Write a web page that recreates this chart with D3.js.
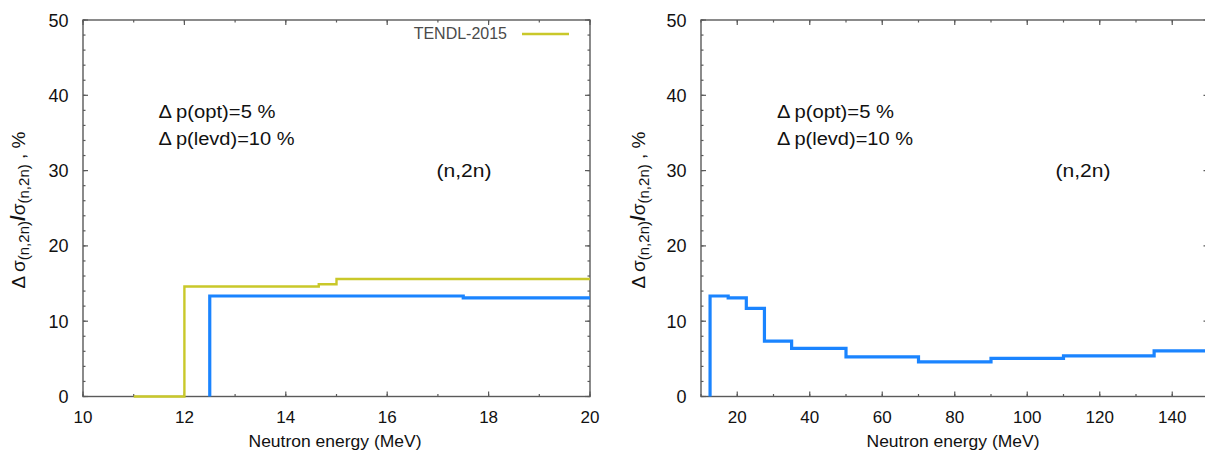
<!DOCTYPE html>
<html><head><meta charset="utf-8">
<script src="https://cdn.jsdelivr.net/npm/d3@7"></script>
<style>
body{margin:0;background:#fff;}
text{font-family:"Liberation Sans",Arial,sans-serif;}
</style></head>
<body><svg id="c" width="1205" height="457"></svg>
<script>
// ---- data ----
const tendlX = [11, 12, 14.65, 15, 20];
const tendlY = [0, 14.6, 14.9, 15.6];
const leftCalcX = [12.5, 17.5, 20];
const leftCalcY = [13.35, 13.1];
const rightCalcX = [12.5, 17.5, 22.5, 27.5, 35, 50, 70, 90, 110, 135, 150];
const rightCalcY = [13.35, 13.1, 11.7, 7.35, 6.4, 5.25, 4.6, 5.05, 5.4, 6.05];
const yTicks = [0, 10, 20, 30, 40, 50];
const leftXTicks = [10, 12, 14, 16, 18, 20];
const rightXTicks = [20, 40, 60, 80, 100, 120, 140];
const annot1 = "\u0394\u2009p(opt)=5 %";
const annot2 = "\u0394\u2009p(levd)=10 %";
const reaction = "(n,2n)";
const legendLabel = "TENDL-2015";
const xTitle = "Neutron energy (MeV)";

const svg = d3.select("#c");
const plotTop = 20, plotBottom = 396.5;
const BLUE = "#1a84ff", YEL = "#c9c82a", AX = "#5a5a5a", TXT = "#111";

function stepPath(xs, ys, startAtZero) {
  const pts = [];
  if (startAtZero) pts.push([xs[0], 0]);
  for (let i = 0; i < ys.length; i++) { pts.push([xs[i], ys[i]]); pts.push([xs[i+1], ys[i]]); }
  return pts;
}

function panel(opt) {
  const g = svg.append("g");
  const x = d3.scaleLinear().domain(opt.xdom).range([opt.x0, opt.x1]);
  const y = d3.scaleLinear().domain([0, 50]).range([plotBottom, plotTop]);
  const clipId = "clip" + opt.x0;
  svg.append("clipPath").attr("id", clipId).append("rect")
    .attr("x", opt.x0).attr("y", plotTop - 2).attr("width", opt.x1 - opt.x0).attr("height", plotBottom - plotTop + 4);
  const tk = (vals, len, axis) => {
    vals.forEach(v => {
      if (axis === "x") {
        const px = x(v);
        g.append("line").attr("x1", px).attr("x2", px).attr("y1", plotBottom).attr("y2", plotBottom - len).attr("stroke", AX).attr("stroke-width", 1.2);
        g.append("line").attr("x1", px).attr("x2", px).attr("y1", plotTop).attr("y2", plotTop + len).attr("stroke", AX).attr("stroke-width", 1.2);
      } else {
        const py = y(v);
        g.append("line").attr("y1", py).attr("y2", py).attr("x1", opt.x0).attr("x2", opt.x0 + len).attr("stroke", AX).attr("stroke-width", 1.2);
        g.append("line").attr("y1", py).attr("y2", py).attr("x1", opt.x1).attr("x2", opt.x1 - len).attr("stroke", AX).attr("stroke-width", 1.2);
      }
    });
  };
  tk(opt.xMinor, 2.5, "x"); tk(opt.xMajor, 5, "x");
  tk(d3.range(0, 51, 2), 2.5, "y"); tk(yTicks, 5, "y");
  g.append("rect").attr("x", opt.x0).attr("y", plotTop).attr("width", opt.x1 - opt.x0).attr("height", plotBottom - plotTop)
    .attr("fill", "none").attr("stroke", AX).attr("stroke-width", 1.4);
  g.selectAll(".yl").data(yTicks).join("text").attr("x", opt.x0 - 14.5).attr("y", d => y(d) + 6.5)
    .attr("text-anchor", "end").attr("font-size", 18).attr("fill", TXT).text(d => d);
  g.selectAll(".xl").data(opt.xMajor).join("text").attr("x", d => x(d)).attr("y", 423)
    .attr("text-anchor", "middle").attr("font-size", 17).attr("fill", TXT).text(d => d);
  g.append("text").attr("x", opt.xtx).attr("y", 446.5)
    .attr("text-anchor", "middle").attr("font-size", 16.5).attr("fill", TXT)
    .attr("textLength", 173).attr("lengthAdjust", "spacingAndGlyphs").text(xTitle);
  const yt = g.append("text").attr("transform", `translate(${opt.ytx},210) rotate(-90)`)
    .attr("text-anchor", "middle").attr("font-size", 19).attr("fill", TXT);
  yt.append("tspan").text("\u0394\u2009\u03c3");
  yt.append("tspan").attr("font-size", 15).attr("dy", 4).text("(n,2n)");
  yt.append("tspan").attr("dy", -4).attr("font-size", 21).attr("font-weight", "bold").text("/");
  yt.append("tspan").text("\u03c3");
  yt.append("tspan").attr("font-size", 15).attr("dy", 4).text("(n,2n)");
  yt.append("tspan").attr("dy", -4).text(" ,  %");
  g.append("text").attr("x", opt.ax).attr("y", 117.5).attr("font-size", 18).attr("fill", TXT)
    .attr("textLength", 117).attr("lengthAdjust", "spacingAndGlyphs").text(annot1);
  g.append("text").attr("x", opt.ax).attr("y", 144.5).attr("font-size", 18).attr("fill", TXT)
    .attr("textLength", 136).attr("lengthAdjust", "spacingAndGlyphs").text(annot2);
  g.append("text").attr("x", opt.rx).attr("y", 176.5).attr("text-anchor", "middle").attr("font-size", 18).attr("fill", TXT)
    .attr("textLength", 55).attr("lengthAdjust", "spacingAndGlyphs").text(reaction);
  const line = d3.line().x(d => x(d[0])).y(d => y(d[1]));
  return {g, x, y, line, clipId};
}

const L = panel({xdom: [10, 20], x0: 83, x1: 590, xMajor: leftXTicks, xMinor: d3.range(10, 21, 1),
  ytx: 25, ax: 158.5, rx: 464, xtx: 335});
L.g.append("path").attr("d", L.line(stepPath(tendlX, tendlY, false))).attr("fill", "none")
  .attr("stroke", YEL).attr("stroke-width", 2.4).attr("clip-path", `url(#${L.clipId})`);
L.g.append("path").attr("d", L.line(stepPath(leftCalcX, leftCalcY, true))).attr("fill", "none")
  .attr("stroke", BLUE).attr("stroke-width", 3.2).attr("clip-path", `url(#${L.clipId})`);
L.g.append("text").attr("x", 507).attr("y", 38.5).attr("text-anchor", "end").attr("font-size", 16).attr("fill", "#4a4a4a").text(legendLabel);
L.g.append("line").attr("x1", 522).attr("x2", 569).attr("y1", 34).attr("y2", 34).attr("stroke", YEL).attr("stroke-width", 2.4);

const R = panel({xdom: [10, 150], x0: 701, x1: 1208.5, xMajor: rightXTicks, xMinor: d3.range(10, 151, 10),
  ytx: 644.5, ax: 777, rx: 1083, xtx: 953});
R.g.append("path").attr("d", R.line(stepPath(rightCalcX, rightCalcY, true))).attr("fill", "none")
  .attr("stroke", BLUE).attr("stroke-width", 3.2).attr("clip-path", `url(#${R.clipId})`);
</script></body></html>
